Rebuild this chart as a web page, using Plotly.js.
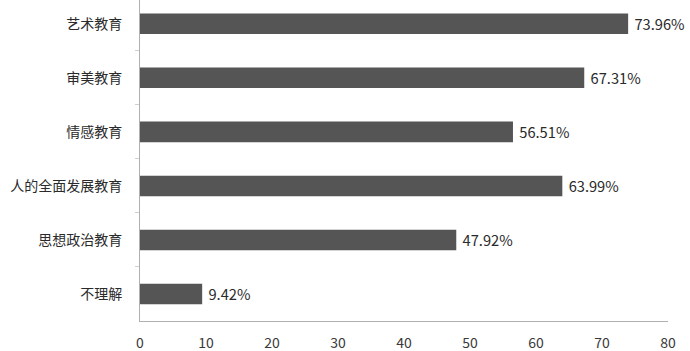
<!DOCTYPE html>
<html>
<head>
<meta charset="utf-8">
<script src="https://cdn.plot.ly/plotly-3.0.1.min.js"></script>
<style>html,body{margin:0;padding:0;background:#fff;}#chart{width:690px;height:351px;}</style>
</head>
<body>
<div id="chart"></div>
<script>
const categories = ['艺术教育', '审美教育', '情感教育', '人的全面发展教育', '思想政治教育', '不理解'];
const values = [73.96, 67.31, 56.51, 63.99, 47.92, 9.42];
const xTicks = [0, 10, 20, 30, 40, 50, 60, 70, 80];

const trace = {
  type: 'bar',
  orientation: 'h',
  y: categories,
  x: values,
  width: 0.38,
  marker: {color: '#555555', line: {width: 0}},
  texttemplate: '\u00a0%{x:.2f}%',
  textposition: 'outside',
  cliponaxis: false,
  textfont: {family: '"Noto Sans CJK SC", "Open Sans", sans-serif', size: 15, color: '#2a2a2a'},
  hoverinfo: 'none'
};

const layout = {
  width: 690, height: 351,
  margin: {l: 140, r: 22, t: 0, b: 30},
  paper_bgcolor: '#ffffff', plot_bgcolor: '#ffffff',
  showlegend: false,
  xaxis: {
    range: [0, 80], tickvals: xTicks, ticktext: xTicks.map(String),
    showgrid: false, zeroline: false, showline: true, linecolor: '#b0b0b0', linewidth: 1,
    ticks: '', ticklabelstandoff: 9,
    tickfont: {family: '"Noto Sans CJK SC", "Open Sans", sans-serif', size: 14, color: '#3a3a3a'},
    fixedrange: true
  },
  yaxis: {
    categoryorder: 'array', categoryarray: categories, range: [5.5, -0.44],
    showgrid: false, zeroline: false, showline: true, linecolor: '#b0b0b0', linewidth: 1,
    ticks: 'outside', ticklen: 4, tickcolor: '#d0d0d0', tickson: 'boundaries',
    tickfont: {family: '"Noto Sans CJK SC", sans-serif', size: 14, color: '#2a2a2a'},
    ticklabelstandoff: 14,
    fixedrange: true
  }
};

Plotly.newPlot('chart', [trace], layout, {displayModeBar: false, staticPlot: true});
</script>
</body>
</html>
